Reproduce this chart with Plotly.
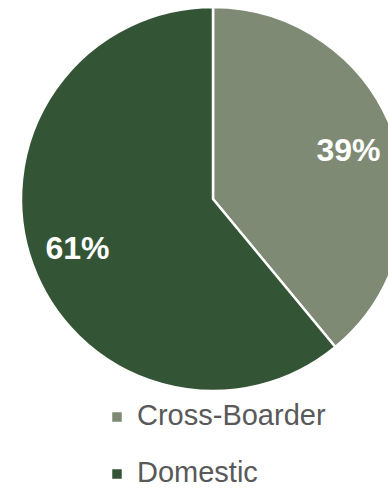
import plotly.graph_objects as go

labels = ["Cross-Boarder", "Domestic"]
values = [39, 61]
colors = ["#7E8A73", "#345535"]

FONT = "Arial, 'Liberation Sans', sans-serif"
W, H = 426, 488
domain = dict(x=[0, 1], y=[1 - 391 / H, 1 - 7 / H])

# legend entries: all but the last get an empty second line to reproduce the wide spacing
legend_text = [
    f"<span style='font-size:29px'>{l}</span>" + ("<br>&nbsp;" if i < len(labels) - 1 else "")
    for i, l in enumerate(labels)
]

fig = go.Figure()
# slices
fig.add_trace(
    go.Pie(
        labels=legend_text,
        values=values,
        sort=False,
        direction="clockwise",
        rotation=0,
        marker=dict(colors=colors, line=dict(color="white", width=2.5)),
        textinfo="none",
        hoverinfo="skip",
        domain=domain,
    )
)
# percentage labels (transparent ring so labels sit towards the rim)
fig.add_trace(
    go.Pie(
        labels=labels,
        values=values,
        sort=False,
        direction="clockwise",
        rotation=0,
        hole=0.5,
        marker=dict(colors=["rgba(0,0,0,0)"] * len(values), line=dict(width=0)),
        textinfo="percent",
        textposition="inside",
        insidetextorientation="horizontal",
        insidetextfont=dict(family=FONT, size=32, color="white", weight="bold"),
        hoverinfo="skip",
        showlegend=False,
        domain=domain,
    )
)

fig.update_layout(
    width=W,
    height=H,
    margin=dict(l=0, r=0, t=0, b=0, autoexpand=False),
    paper_bgcolor="white",
    plot_bgcolor="white",
    showlegend=True,
    legend=dict(
        x=97 / W,
        xanchor="left",
        y=1 - 397 / H,
        yanchor="top",
        valign="top",
        font=dict(family=FONT, size=20.8, color="#595959"),
        bgcolor="rgba(0,0,0,0)",
    ),
)

fig.write_html(
    "out.html",
    post_script="document.documentElement.style.overflow='hidden';document.body.style.overflow='hidden';",
)
